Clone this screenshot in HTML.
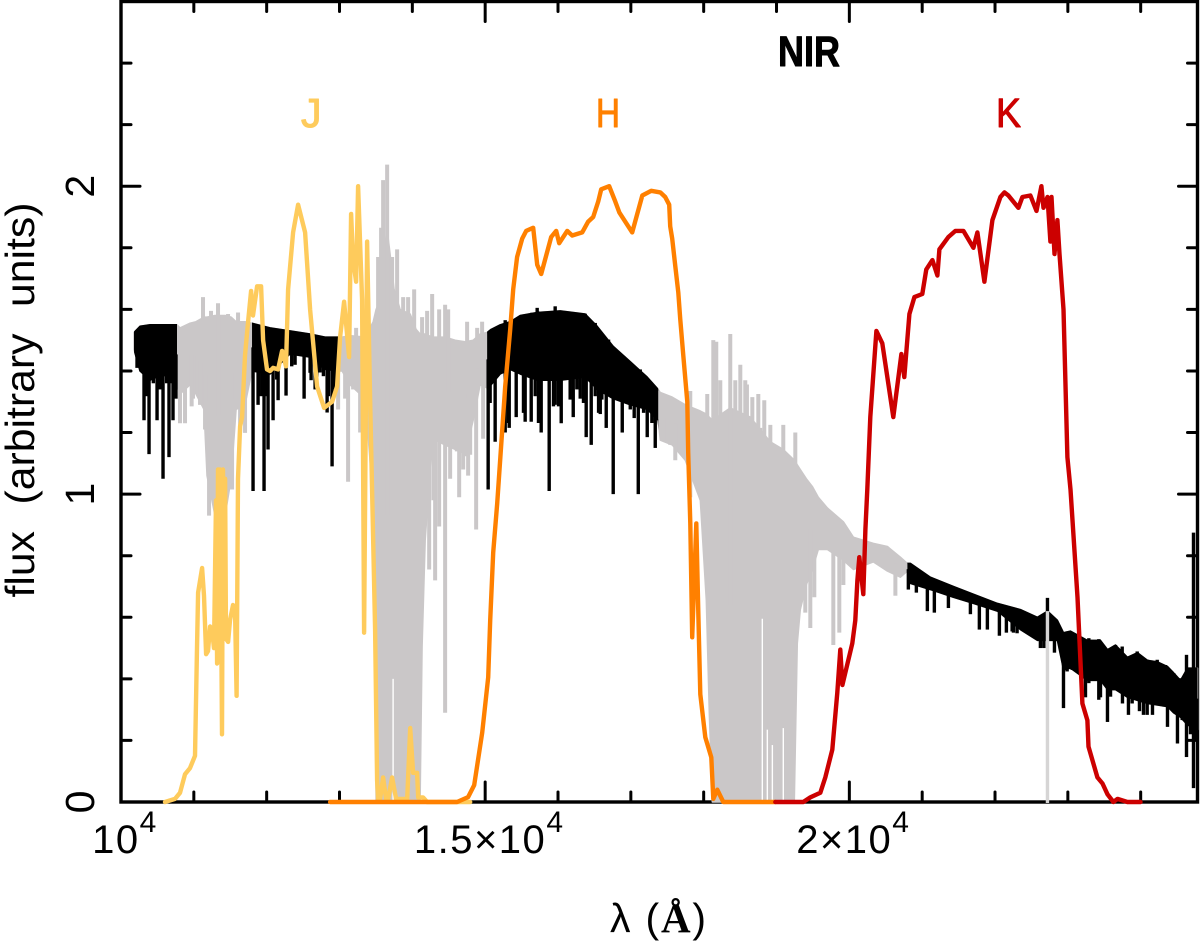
<!DOCTYPE html>
<html lang="en">
<head>
<meta charset="utf-8">
<title>NIR spectrum with J, H, K filters</title>
<style>
html,body{margin:0;padding:0;background:#fff;}
svg{display:block;}
text{font-family:"Liberation Sans",sans-serif;fill:#000;}
</style>
</head>
<body>
<svg id="chart" xmlns="http://www.w3.org/2000/svg" width="1200" height="941" viewBox="0 0 1200 941">
  <rect x="0" y="0" width="1200" height="941" fill="#fff"/>
  <defs>
    <clipPath id="black-clip"></clipPath>
  </defs>
  <g id="axes"></g>
  <g id="spectrum"></g>
  <g id="filters"></g>
  <g id="tick-labels"></g>
  <text transform="translate(34,400) rotate(-90)" text-anchor="middle" font-size="41" word-spacing="14" textLength="395" lengthAdjust="spacingAndGlyphs">flux (arbitrary units)</text>
  <text x="610" y="932" font-size="41" textLength="96" lengthAdjust="spacing">λ (<tspan style="font-family:'Liberation Serif',serif;font-weight:bold">Å</tspan>)</text>
  <text x="778" y="66" font-size="43" font-weight="bold" stroke="#000" stroke-width="1" stroke-linejoin="round" textLength="62" lengthAdjust="spacingAndGlyphs">NIR</text>
  <text x="301" y="127" font-size="41" stroke="#fecb5c" stroke-width="1" stroke-linejoin="round" style="fill:#fecb5c">J</text>
  <text x="596" y="127" font-size="41" stroke="#ff8000" stroke-width="1" stroke-linejoin="round" textLength="24" lengthAdjust="spacingAndGlyphs" style="fill:#ff8000">H</text>
  <text x="996" y="127" font-size="41" stroke="#cc0000" stroke-width="1" stroke-linejoin="round" textLength="25" lengthAdjust="spacingAndGlyphs" style="fill:#cc0000">K</text>
</svg>
<script>
// ---- axis data ----
const xMajorTicks = [10000, 15000, 20000];
const xMinorTicks = [11000, 12000, 13000, 14000, 16000, 17000, 18000, 19000, 21000, 22000, 23000, 24000];
const xTickLabels = ["10", "1.5×10", "2×10"];
const xTickExponent = "4";
const yMajorTicks = [0, 1, 2];
const yMinorTicks = [0.2, 0.4, 0.6, 0.8, 1.2, 1.4, 1.6, 1.8, 2.2, 2.4];
const yTickLabels = ["0", "1", "2"];
const xDomain = [10000, 24780];
const yDomain = [0, 2.6];

// ---- spectrum data: envelope of the dense band ----
const bandWave = [10179,10261,10398,10577,10769,10810,10948,11030,11140,11181,11291,11429,11511,11580,11703,11799,12047,12321,12596,12802,12981,13036,13146,13352,13462,13503,13558,13613,13654,13695,13750,13832,13970,14052,14107,14134,14176,14272,14450,14588,14725,14835,14931,15027,15082,15206,15343,15481,15714,16030,16374,16538,16758,16992,17225,17376,17404,17568,17747,17953,18036,18077,18118,18365,18640,18915,19093,19244,19286,19327,19409,19491,19574,19698,19918,20055,20329,20522,20701,20797,20838,21113,21429,21703,22033,22349,22582,22720,22857,22940,23036,23269,23448,23544,23654,23818,23956,24093,24231,24368,24450,24546,24643,24780];
const bandTop = [1.525,1.545,1.55,1.55,1.55,1.54,1.555,1.56,1.575,1.575,1.58,1.58,1.575,1.56,1.56,1.555,1.54,1.53,1.52,1.51,1.51,1.51,1.515,1.51,1.56,1.60,1.63,1.795,1.86,1.78,1.665,1.60,1.585,1.535,1.52,1.52,1.52,1.51,1.51,1.50,1.495,1.50,1.52,1.525,1.535,1.55,1.56,1.58,1.59,1.595,1.585,1.545,1.48,1.43,1.38,1.34,1.33,1.315,1.29,1.27,1.26,1.25,1.24,1.28,1.25,1.17,1.145,1.11,1.095,1.08,1.05,1.025,0.99,0.955,0.91,0.86,0.84,0.83,0.795,0.775,0.775,0.73,0.70,0.675,0.645,0.625,0.60,0.62,0.59,0.55,0.555,0.525,0.525,0.495,0.51,0.47,0.485,0.46,0.455,0.44,0.42,0.395,0.435,0.435];
const bandBottom = [1.47,1.40,1.37,1.39,1.355,1.325,1.355,1.325,1.275,1.06,0.93,0.93,1.05,1.275,1.29,1.40,1.39,1.455,1.445,1.405,1.40,1.40,1.355,1.31,0.98,0,0,0,0,0,0,0,0,0,0,0.505,0.85,1.18,1.16,1.145,1.13,1.24,1.355,1.345,1.355,1.39,1.405,1.39,1.37,1.37,1.38,1.34,1.31,1.29,1.275,1.24,1.175,1.16,1.11,0.98,0.655,0.29,0,0,0,0,0,0,0.515,0.625,0.705,0.755,0.82,0.82,0.785,0.755,0.78,0.75,0.73,0.75,0.71,0.69,0.665,0.645,0.62,0.56,0.525,0.525,0.525,0.43,0.435,0.395,0.395,0.365,0.365,0.34,0.33,0.32,0.315,0.31,0.29,0.275,0.25,0.235];

// ---- spectrum data: narrow absorption lines ----
const dipWave = [10220,10316,10385,10495,10577,10659,10714,10755,10810,10879,10989,11085,11154,11209,11525,11635,11813,11882,11964,12019,12088,12157,12266,12390,12514,12610,12665,12734,12830,12898,12981,13077,13118,13187,13283,13379,14231,14313,14368,14450,14519,14643,14698,14766,14876,14972,15041,15137,15275,15330,15426,15549,15632,15769,15879,15961,16044,16209,16305,16387,16456,16580,16662,16758,16882,16992,17102,17225,17335,17445,17541,17610,17816,17981,18063,19395,19464,19519,19780,19862,19918,20632,20810,20920,21071,21167,21360,21662,21785,21895,22060,22156,22253,22390,22623,22816,22940,23242,23448,23544,23750,23832,23983,24038,24162,24368,24505,24629,24684,24725,24766];
const dipFlux = [1.41,1.24,1.13,1.24,1.05,1.12,1.24,1.31,1.23,1.23,1.31,1.29,1.21,0.93,1.015,1.20,1.01,1.29,1.01,1.145,1.24,1.305,1.32,1.42,1.31,1.37,1.34,1.395,1.265,1.09,1.275,1.31,1.04,1.34,1.20,1.18,0.755,0.72,0.895,0.29,1.05,0.99,1.08,1.06,0.885,1.18,1.015,1.17,1.20,1.215,1.25,1.235,1.235,1.20,1.01,1.29,1.23,1.25,1.31,1.185,1.16,1.26,1.215,1.00,1.20,1.275,1.00,1.185,1.15,1.175,1.16,1.11,0.99,0.98,0.645,0.615,0.565,0.665,0.51,0.55,0.705,0.67,0.69,0.68,0.62,0.615,0.63,0.61,0.56,0.56,0.54,0.55,0.55,0.56,0.50,0.485,0.305,0.34,0.34,0.26,0.32,0.283,0.295,0.283,0.283,0.244,0.19,0.146,0.22,0.045,0.20];

// ---- spectrum data: shallower absorption lines along the band's lower edge ----
const shallowDipWave = [15068,15320,15526,15687,15732,15938,16007,16167,16259,16350,16511,16557,16602,16808,16969,17046,17175,17289,10352,10444,10535,10627,10696,11886,11932,12001,12138,12344,12596,12688,12779,12848,12940,10970,11566,11703,14496,14611,14725,14794,14290,22235,22303,22441,22555,22670,22899,22990,23059,23128,23288,23357,23425,23586,23677,23792,23883,23952,24089,24250,24318,24433,24570];
const shallowDipFlux = [1.296,1.231,1.264,1.318,1.231,1.285,1.285,1.307,1.34,1.296,1.318,1.264,1.307,1.307,1.296,1.247,1.264,1.231,1.318,1.36,1.34,1.36,1.36,1.318,1.318,1.318,1.372,1.415,1.394,1.38,1.383,1.318,1.34,1.285,1.307,1.199,1.177,1.139,1.123,1.128,0.98,0.554,0.548,0.559,0.57,0.50,0.516,0.424,0.429,0.44,0.386,0.397,0.332,0.342,0.364,0.348,0.32,0.348,0.283,0.315,0.31,0.30,0.266];

// ---- spectrum data: narrow emission spikes ----
const peakWave = [11126,11236,11332,11470,11607,13228,13530,13571,13599,13654,13722,13791,13874,13942,14025,14134,14203,14272,14368,14450,14492,14752,14890,14958,15275,15714,15961,17816,18049,18132,18173,18228,18365,18434,18503,18571,18668,18750,18832,18915,19093,19258,22720,24629,24725];
const peakFlux = [1.64,1.595,1.62,1.585,1.59,1.54,1.77,1.865,2.02,2.07,1.77,1.795,1.64,1.64,1.665,1.575,1.595,1.65,1.60,1.615,1.60,1.56,1.54,1.56,1.565,1.605,1.61,1.335,1.325,1.50,1.495,1.37,1.52,1.37,1.42,1.37,1.315,1.325,1.305,1.225,1.225,1.20,0.663,0.478,0.875];

// ---- spectrum data: small teeth along the band's upper edge ----
const toothWave = [15641,15719,15915,16030,16167,16373,16511,16694,16900,17129,18594,18777,22990,23082,23288,23425,23494,23654,23746,23837,23952,24089,24227,24341,24456,24547,24707];
const toothFlux = [1.589,1.594,1.589,1.596,1.589,1.586,1.556,1.502,1.448,1.405,1.356,1.215,0.554,0.543,0.532,0.529,0.494,0.51,0.505,0.472,0.489,0.462,0.462,0.445,0.418,0.402,0.435];

// ---- spectrum data: thin gaps in the saturated wells ----
const gapWave = [13736,18805,18874,18943,19093];
const gapFlux = [0.40,0.595,0.235,0.185,0.24];

// ---- wavelength ranges rendered in black ----
const blackStart = [10179,11799,15027,20797];
const blackEnd = [10769,12981,17376,24780];

// ---- single light artefact line ----
const artefactWave = 22720;
const artefactFlux = 0.62;

// ---- J filter ----
const jWave = [10604,10742,10810,10879,10948,11016,11044,11058,11113,11140,11168,11195,11223,11250,11277,11305,11319,11332,11346,11360,11387,11401,11415,11429,11442,11470,11497,11538,11566,11587,11607,11635,11662,11703,11745,11786,11813,11868,11923,11951,12005,12047,12088,12157,12212,12266,12294,12363,12431,12527,12596,12692,12788,12898,12967,13008,13063,13132,13159,13187,13228,13255,13310,13338,13379,13420,13489,13516,13530,13558,13599,13640,13668,13722,13777,13929,13970,14011,14066,14080,14148,14203,14794];
const jFlux = [0,0.01,0.03,0.09,0.11,0.15,0.50,0.68,0.76,0.67,0.48,0.49,0.57,0.56,0.50,0.98,0.45,1.08,0.48,1.08,0.22,1.08,0.53,1.05,0.53,0.52,0.59,0.64,0.61,0.345,1.05,1.22,1.25,1.45,1.56,1.66,1.58,1.675,1.675,1.50,1.405,1.40,1.41,1.405,1.465,1.415,1.665,1.85,1.94,1.85,1.60,1.35,1.28,1.30,1.35,1.51,1.625,1.445,1.91,1.76,1.69,2.00,1.63,0.55,1.82,1.31,0.56,0.07,0.01,0.01,0.08,0.01,0.01,0.08,0.01,0.01,0.24,0.095,0.095,0.015,0.015,0,0];

// ---- H filter ----
const hWave = [12871,14382,14615,14766,14849,14959,15041,15069,15110,15165,15275,15343,15385,15439,15508,15563,15659,15714,15769,15906,15975,16016,16126,16195,16332,16415,16483,16552,16593,16703,16786,16841,17019,17157,17280,17404,17472,17527,17541,17568,17610,17651,17678,17720,17775,17788,17816,17843,17898,17926,17953,18022,18104,18132,18187,18269,18983];
const hFlux = [0,0,0,0.016,0.055,0.225,0.405,0.59,0.81,0.97,1.35,1.535,1.665,1.77,1.83,1.855,1.865,1.745,1.715,1.835,1.855,1.815,1.855,1.84,1.85,1.885,1.90,1.95,1.99,2.00,1.95,1.915,1.85,1.97,1.985,1.98,1.965,1.94,1.87,1.83,1.74,1.655,1.57,1.45,1.30,1.135,0.905,0.535,0.905,0.615,0.35,0.21,0.145,0.01,0.04,0,0];

// ---- K filter ----
const kWave = [18983,19368,19464,19601,19670,19766,19835,19876,19904,20041,20082,20110,20137,20192,20220,20247,20288,20371,20453,20604,20714,20755,20824,20893,21002,21057,21140,21209,21236,21360,21456,21566,21703,21758,21854,21964,22074,22129,22184,22321,22376,22486,22569,22637,22665,22720,22761,22775,22816,22857,22885,22940,22994,23036,23132,23200,23269,23283,23406,23475,23544,23626,23681,23818,23997];
const kFlux = [0,0,0.015,0.03,0.08,0.17,0.355,0.495,0.38,0.515,0.59,0.72,0.795,0.675,0.885,1.015,1.25,1.53,1.49,1.25,1.455,1.38,1.585,1.64,1.65,1.73,1.76,1.71,1.795,1.835,1.855,1.855,1.80,1.85,1.69,1.89,1.965,1.98,1.97,1.93,1.965,1.97,1.92,2.00,1.93,1.965,1.82,1.965,1.78,1.89,1.78,1.60,1.12,1.015,0.665,0.32,0.265,0.18,0.08,0.06,0.025,0,0.01,0,0];

const GREY = "#cac7c8", YELLOW = "#fecb5c", ORANGE = "#ff8000", RED = "#cc0000";
const PLOT_LEFT = 121, PLOT_RIGHT = 1197.5, PLOT_BOTTOM = 802, PLOT_TOP = 1.5;
const PX_PER_ANGSTROM = (PLOT_RIGHT - PLOT_LEFT) / (xDomain[1] - xDomain[0]);
const PX_PER_FLUX = (PLOT_BOTTOM - PLOT_TOP) / (yDomain[1] - yDomain[0]);
const NS = "http://www.w3.org/2000/svg";

function xScale(w) { return PLOT_LEFT + (w - xDomain[0]) * PX_PER_ANGSTROM; }
function yScale(f) { return PLOT_BOTTOM - (f - yDomain[0]) * PX_PER_FLUX; }

function make(tag, attrs, parent) {
  const e = document.createElementNS(NS, tag);
  for (const k in attrs) e.setAttribute(k, attrs[k]);
  parent.appendChild(e);
  return e;
}
function lerp(xs, ys, x) {
  if (x <= xs[0]) return ys[0];
  for (let i = 1; i < xs.length; i++) {
    if (x <= xs[i]) {
      const t = (x - xs[i - 1]) / (xs[i] - xs[i - 1]);
      return ys[i - 1] + t * (ys[i] - ys[i - 1]);
    }
  }
  return ys[ys.length - 1];
}
function isBlack(w) {
  for (let i = 0; i < blackStart.length; i++) {
    if (w >= blackStart[i] && w < blackEnd[i]) return true;
  }
  return false;
}

// ---- axes ----
const axes = document.getElementById("axes");
const frame = make("rect", {x: PLOT_LEFT, y: PLOT_TOP, width: PLOT_RIGHT - PLOT_LEFT, height: PLOT_BOTTOM - PLOT_TOP, fill: "none", stroke: "#000", "stroke-width": 3.4}, axes);



function drawXTick(w, len, name) {
  const x = xScale(w);
  const b = make("line", {x1: x, x2: x, y1: PLOT_BOTTOM, y2: PLOT_BOTTOM - len, stroke: "#000", "stroke-width": 3, "stroke-linecap": "round"}, axes);
  
  
  const t = make("line", {x1: x, x2: x, y1: PLOT_TOP, y2: PLOT_TOP + len, stroke: "#000", "stroke-width": 3, "stroke-linecap": "round"}, axes);
  
  
}
function drawYTick(f, len, name) {
  const y = yScale(f);
  const l = make("line", {x1: PLOT_LEFT, x2: PLOT_LEFT + len, y1: y, y2: y, stroke: "#000", "stroke-width": 3, "stroke-linecap": "round"}, axes);
  
  
  const r = make("line", {x1: PLOT_RIGHT, x2: PLOT_RIGHT - len, y1: y, y2: y, stroke: "#000", "stroke-width": 3, "stroke-linecap": "round"}, axes);
  
  
}
xMajorTicks.slice(1).forEach(function (w) { drawXTick(w, 20, "x-major-tick"); });
xMinorTicks.forEach(function (w) { drawXTick(w, 10, "x-minor-tick"); });
yMajorTicks.slice(1).forEach(function (f) { drawYTick(f, 19, "y-major-tick"); });
yMinorTicks.forEach(function (f) { drawYTick(f, 10, "y-minor-tick"); });

// ---- tick labels ----
const labels = document.getElementById("tick-labels");
xMajorTicks.forEach(function (w, i) {
  const t = make("text", {x: xScale(w) + 4, y: 853, "text-anchor": "middle", "font-size": 40, "letter-spacing": 1.5}, labels);
  
  
  const m = make("tspan", {}, t);
  m.textContent = xTickLabels[i];
  const e = make("tspan", {"font-size": 30, dy: -21}, t);
  e.textContent = xTickExponent;
});
yMajorTicks.forEach(function (f, i) {
  const t = make("text", {transform: "translate(94," + yScale(f) + ") rotate(-90)", "text-anchor": "middle", "font-size": 41}, labels);
  
  
  t.textContent = yTickLabels[i];
});

// ---- spectrum ----
const spectrum = document.getElementById("spectrum");
const clip = document.getElementById("black-clip");
blackStart.forEach(function (w, i) {
  make("rect", {x: xScale(w), y: 0, width: xScale(blackEnd[i]) - xScale(w), height: 941}, clip);
});

function bandPoints() {
  const pts = [];
  for (let i = 0; i < bandWave.length; i++) pts.push(xScale(bandWave[i]).toFixed(1) + "," + yScale(bandTop[i]).toFixed(1));
  for (let i = bandWave.length - 1; i >= 0; i--) pts.push(xScale(bandWave[i]).toFixed(1) + "," + yScale(bandBottom[i]).toFixed(1));
  return pts.join(" ");
}
const greyBand = make("polygon", {points: bandPoints(), fill: GREY, stroke: GREY, "stroke-width": 1.5, "stroke-linejoin": "round"}, spectrum);



function drawLine(w, f, color, width, name) {
  const mid = (lerp(bandWave, bandTop, w) + lerp(bandWave, bandBottom, w)) / 2;
  const l = make("line", {x1: xScale(w), x2: xScale(w), y1: yScale(mid), y2: yScale(f), stroke: color, "stroke-width": width, "stroke-linecap": "butt"}, spectrum);
  
  
}
dipWave.forEach(function (w, i) {
  if (!isBlack(w)) drawLine(w, dipFlux[i], GREY, 4, "grey-absorption-line");
});
shallowDipWave.forEach(function (w, i) {
  if (!isBlack(w)) drawLine(w, shallowDipFlux[i], GREY, 4, "grey-shallow-absorption-line");
});
peakWave.forEach(function (w, i) {
  if (!isBlack(w)) drawLine(w, peakFlux[i], GREY, 4, "grey-emission-spike");
});
toothWave.forEach(function (w, i) {
  if (!isBlack(w)) drawLine(w, toothFlux[i], GREY, 4, "grey-edge-tooth");
});
gapWave.forEach(function (w, i) {
  const g = make("line", {x1: xScale(w), x2: xScale(w), y1: yScale(gapFlux[i]), y2: yScale(0) - 2, stroke: "#fff", "stroke-width": 1.4}, spectrum);
  
  
});
const blackBand = make("polygon", {points: bandPoints(), fill: "#000", stroke: "#000", "stroke-width": 1.5, "stroke-linejoin": "round", "clip-path": "url(#black-clip)"}, spectrum);


dipWave.forEach(function (w, i) {
  if (isBlack(w)) drawLine(w, dipFlux[i], "#000", 3.4, "black-absorption-line");
});
shallowDipWave.forEach(function (w, i) {
  if (isBlack(w)) drawLine(w, shallowDipFlux[i], "#000", 3.4, "black-shallow-absorption-line");
});
peakWave.forEach(function (w, i) {
  if (isBlack(w)) drawLine(w, peakFlux[i], "#000", 3.4, "black-emission-spike");
});
toothWave.forEach(function (w, i) {
  if (isBlack(w)) drawLine(w, toothFlux[i], "#000", 3.4, "black-edge-tooth");
});
const artefact = make("line", {x1: xScale(artefactWave), x2: xScale(artefactWave), y1: yScale(artefactFlux), y2: yScale(0) + 1, stroke: "#d6d5d5", "stroke-width": 3.4}, spectrum);



// ---- filters ----
const filters = document.getElementById("filters");
function drawFilter(waves, fluxes, color) {
  const pts = waves.map(function (w, i) { return xScale(w).toFixed(1) + "," + yScale(fluxes[i]).toFixed(1); }).join(" ");
  return make("polyline", {points: pts, fill: "none", stroke: color, "stroke-width": 4.4, "stroke-linejoin": "round", "stroke-linecap": "round"}, filters);
}
const jCurve = drawFilter(jWave, jFlux, YELLOW);


const hCurve = drawFilter(hWave, hFlux, ORANGE);


const kCurve = drawFilter(kWave, kFlux, RED);


</script>
</body>
</html>
